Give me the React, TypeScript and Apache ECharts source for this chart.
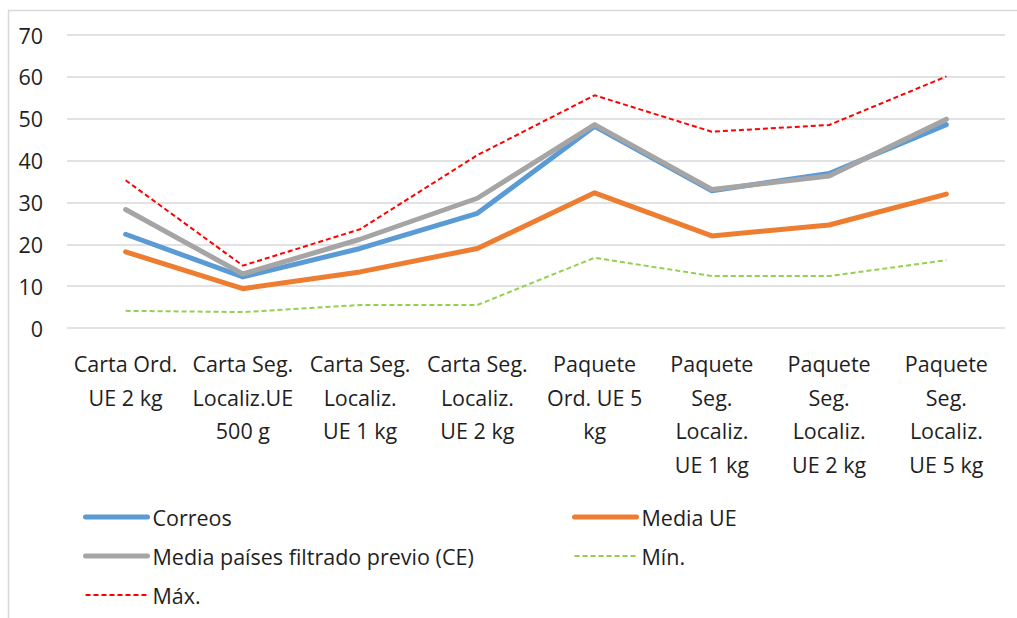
import React, { useEffect, useRef } from "react";
import * as echarts from "echarts";

const categories = [
  "Carta Ord.\nUE 2 kg",
  "Carta Seg.\nLocaliz.UE\n500 g",
  "Carta Seg.\nLocaliz.\nUE 1 kg",
  "Carta Seg.\nLocaliz.\nUE 2 kg",
  "Paquete\nOrd. UE 5\nkg",
  "Paquete\nSeg.\nLocaliz.\nUE 1 kg",
  "Paquete\nSeg.\nLocaliz.\nUE 2 kg",
  "Paquete\nSeg.\nLocaliz.\nUE 5 kg",
];

const correos = [22.4, 12.2, 19.0, 27.4, 48.2, 32.8, 36.9, 48.6];
const mediaUE = [18.2, 9.4, 13.4, 19.0, 32.3, 22.0, 24.6, 32.0];
const mediaPaises = [28.3, 12.9, 21.2, 31.0, 48.6, 33.1, 36.3, 49.9];
const minimo = [4.1, 3.8, 5.5, 5.5, 16.8, 12.4, 12.4, 16.2];
const maximo = [35.3, 14.9, 23.6, 41.3, 55.6, 46.9, 48.5, 60.1];

const yTicks = { min: 0, max: 70, interval: 10 };

const FONT = "'Open Sans', Lato, sans-serif";
const TXT = "#1f1f1f";
const FS = 21.5;

export default function App() {
  const ref = useRef<HTMLDivElement>(null);
  useEffect(() => {
    document.body.style.margin = "0";
    const chart = echarts.init(ref.current!, undefined, { renderer: "svg" });
    const thick = (name: string, data: number[], color: string) => ({
      name,
      type: "line",
      data,
      symbol: "none",
      lineStyle: { color, width: 5, cap: "round", join: "round" },
      itemStyle: { color },
      z: 3,
    });
    const dashed = (name: string, data: number[], color: string) => ({
      name,
      type: "line",
      data,
      symbol: "none",
      lineStyle: { color, width: 2, type: [5, 3] },
      itemStyle: { color },
      z: 2,
    });
    const legendCommon = {
      orient: "vertical",
      itemWidth: 62,
      itemHeight: 14,
      itemGap: 17,
      padding: 0,
      itemStyle: { opacity: 0 },
      textStyle: { fontFamily: FONT, fontSize: FS, color: TXT, padding: [0, 0, 0, 0] },
    };
    const thickItem = (name: string) => ({ name, lineStyle: { width: 5, cap: "round" } });
    const dashItem = (name: string) => ({ name, lineStyle: { width: 2 } });
    chart.setOption({
      animation: false,
      textStyle: { fontFamily: FONT },
      graphic: [
        {
          type: "rect",
          shape: { x: 8.5, y: 10.5, width: 1100, height: 700 },
          style: { fill: "none", stroke: "#d9d9d9", lineWidth: 1.5 },
          silent: true,
        },
      ],
      grid: { left: 67, right: 12, top: 35, bottom: 290 },
      xAxis: {
        type: "category",
        data: categories,
        boundaryGap: true,
        axisLine: { show: false },
        axisTick: { show: false },
        axisLabel: {
          interval: 0,
          margin: 19,
          fontFamily: FONT,
          fontSize: FS,
          lineHeight: 33.5,
          color: TXT,
          verticalAlign: "top",
        },
      },
      yAxis: {
        type: "value",
        min: yTicks.min,
        max: yTicks.max,
        interval: yTicks.interval,
        axisLine: { show: false },
        axisTick: { show: false },
        axisLabel: { fontFamily: FONT, fontSize: FS, color: TXT, margin: 24 },
        splitLine: { lineStyle: { color: "#d9d9d9", width: 1.5 } },
      },
      legend: [
        {
          ...legendCommon,
          left: 83,
          top: 506,
          data: [thickItem("Correos"), thickItem("Media países filtrado previo (CE)"), dashItem("Máx.")],
        },
        { ...legendCommon, left: 572, top: 506, data: [thickItem("Media UE"), dashItem("Mín.")] },
      ],
      series: [
        dashed("Mín.", minimo, "#92D050"),
        dashed("Máx.", maximo, "#FF0000"),
        thick("Correos", correos, "#5B9BD5"),
        thick("Media UE", mediaUE, "#ED7D31"),
        thick("Media países filtrado previo (CE)", mediaPaises, "#A5A5A5"),
      ],
    });
    return () => chart.dispose();
  }, []);
  return <div ref={ref} style={{ width: 1017, height: 618 }} />;
}
